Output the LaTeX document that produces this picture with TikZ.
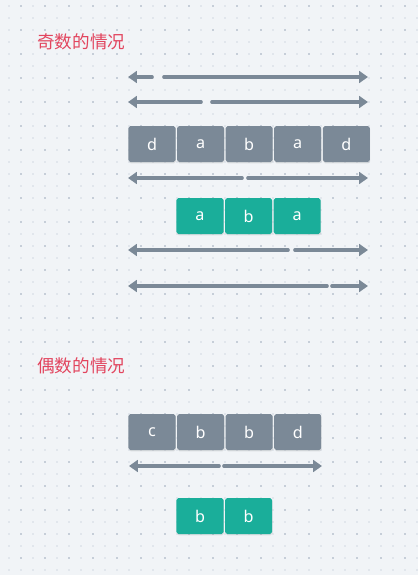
\documentclass[tikz,border=0pt]{standalone}
\usepackage{fontspec}
\setmainfont{Noto Sans}
\newfontfamily\cjk{Noto Sans CJK SC}
\usepackage{tkz-euclide}
\usetikzlibrary{calc}
\usetikzlibrary{positioning}
\usetikzlibrary{shadows}
\usetikzlibrary{arrows.meta}

\definecolor{paper}{HTML}{F1F4F7}
\definecolor{dotlight}{HTML}{E1E6EC}
\definecolor{dotdark}{HTML}{C6CED8}
\definecolor{slate}{HTML}{7B8997}
\definecolor{teal}{HTML}{1AAE9A}
\definecolor{rose}{HTML}{E2455E}

\tikzset{
  cell/.style = {rectangle, rounded corners=1.4pt, minimum width=1.175cm,
                 minimum height=0.9cm, inner sep=0pt, text=white,
                 font=\fontsize{11.5}{13}\selectfont,
                 drop shadow={opacity=0.18, shadow xshift=0.3pt, shadow yshift=-1pt}},
  grey/.style  = {cell, fill=slate},
  green/.style = {cell, fill=teal},
  span/.style  = {draw=slate, line width=2.6pt, line cap=round,
                  -{Triangle[width=8.4pt, length=6.3pt]}},
  heading/.style = {text=rose, font=\cjk\fontsize{12.5}{14}\selectfont,
                    anchor=west, inner sep=0pt}
}

\begin{document}
\begin{tikzpicture}[x=0.025cm, y=-0.025cm]
      \useasboundingbox (0,0) rectangle (418,575);
      \fill[paper] (0,0) rectangle (418,575);
      % dot grid
      \foreach \i in {0,...,34}
        \foreach \j in {0,...,47}
          \fill[dotlight] ($(9+12*\i,6+12*\j)+(-0.6,-0.6)$) rectangle ++(1.2,1.2);
      \foreach \i in {0,...,16}
        \foreach \j in {0,...,23}
          \fill[dotdark] ($(21+24*\i,6+24*\j)+(-0.6,-0.6)$) rectangle ++(1.2,1.2);

      \node[heading] (odd) at (37,42) {奇数的情况};
      \node[heading] (even) at (37,366) {偶数的情况};

      % odd case
      \node[grey] (o1) at (152,144) {d};
      \node[grey, right=0.025cm of o1] (o2) {a};
      \node[grey, right=0.025cm of o2] (o3) {b};
      \node[grey, right=0.025cm of o3] (o4) {a};
      \node[grey, right=0.025cm of o4] (o5) {d};

      \node[green] (p1) at (200,216) {a};
      \node[green, right=0.025cm of p1] (p2) {b};
      \node[green, right=0.025cm of p2] (p3) {a};

      \tkzDefPoints{128/77/L1, 152/77/A1, 164/77/B1, 368/77/R1,
                    128/102/L2, 201/102/A2, 212/102/B2, 368/102/R2,
                    128/178/L3, 242/178/A3, 248/178/B3, 368/178/R3,
                    128/250/L4, 288/250/A4, 295/250/B4, 368/250/R4,
                    128/286/L5, 327/286/A5, 332/286/B5, 368/286/R5}
      \foreach \k in {1,...,5}{
        \draw[span] (A\k) -- (L\k);
        \draw[span] (B\k) -- (R\k);
      }

      % even case
      \node[grey] (e1) at (152,432) {c};
      \node[grey, right=0.025cm of e1] (e2) {b};
      \node[grey, right=0.025cm of e2] (e3) {b};
      \node[grey, right=0.025cm of e3] (e4) {d};

      \tkzDefPoints{129/466/L6, 219/466/A6, 224/466/B6, 322/466/R6}
      \draw[span] (A6) -- (L6);
      \draw[span] (B6) -- (R6);

      \node[green] (q1) at (200,516) {b};
      \node[green, right=0.025cm of q1] (q2) {b};
\end{tikzpicture}
\end{document}
